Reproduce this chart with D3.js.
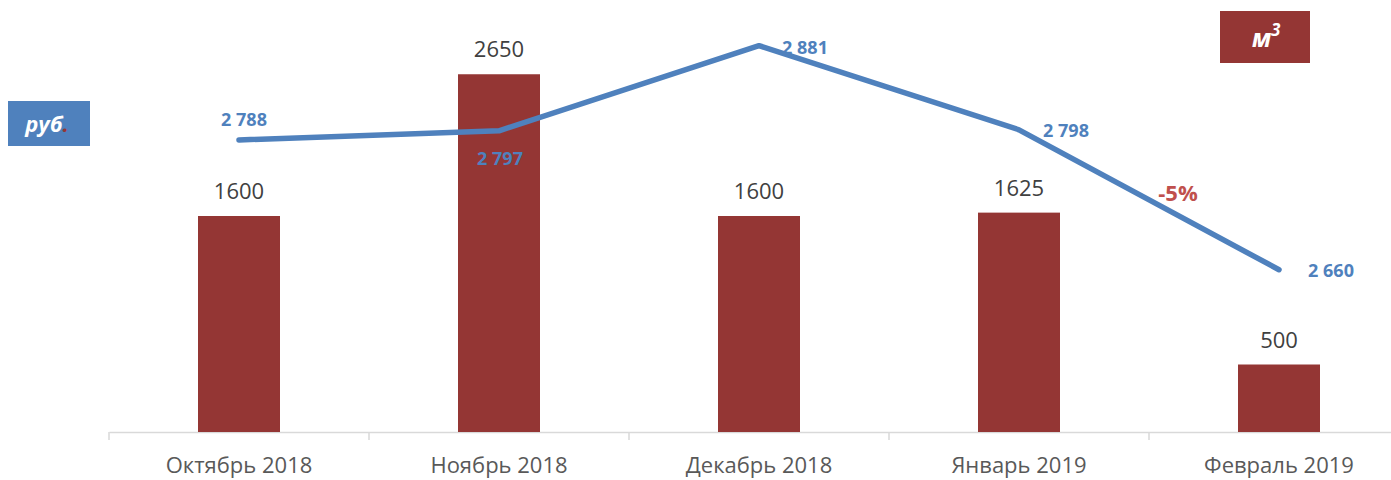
<!DOCTYPE html>
<meta charset="utf-8">
<head>
  <title>Объём и цена</title>
</head>
<style>
body { margin: 0; background: #fff; font-family: "Open Sans", "Noto Sans", sans-serif; }
</style>
<body>
  <svg id="chart" width="1391" height="480"></svg>
  <script src="https://cdnjs.cloudflare.com/ajax/libs/d3/7.8.5/d3.min.js"></script>
  <script>
var months = ['Октябрь 2018', 'Ноябрь 2018', 'Декабрь 2018', 'Январь 2019', 'Февраль 2019'];
var volume = [1600, 2650, 1600, 1625, 500];
var price = [2788, 2797, 2881, 2798, 2660];
var priceLabels = ['2 788', '2 797', '2 881', '2 798', '2 660'];
// label placement relative to point: dx, dy
var labelPos = [[5, -14], [1, 34], [46, 8], [47, 7], [52, 7]];

var svg = d3.select('#chart');
var left = 109, right = 1409, base = 432;

var x = d3.scaleBand().domain(months).range([left, right]);
var yBar = d3.scaleLinear().domain([0, 3200]).range([base, 0]);
var yLine = d3.scaleLinear().domain([2500, 2926]).range([base, 0]);

// axis
var axis = svg.append('g').attr('transform', 'translate(0,' + base + ')')
  .call(d3.axisBottom(x).tickSize(0).tickPadding(25));
axis.select('.domain').attr('stroke', '#d9d9d9').attr('stroke-width', 1.5);
axis.selectAll('text').attr('font-size', 22).attr('fill', '#595959')
  .attr('font-family', '"Open Sans", sans-serif');
svg.append('g').selectAll('line')
  .data(months)
  .join('line')
  .attr('x1', function(d) { return x(d); })
  .attr('x2', function(d) { return x(d); })
  .attr('y1', base).attr('y2', base + 8)
  .attr('stroke', '#d9d9d9').attr('stroke-width', 1.5);

// bars
var bw = 82;
svg.append('g').selectAll('rect')
  .data(volume)
  .join('rect')
  .attr('x', function(d, i) { return x(months[i]) + x.bandwidth() / 2 - bw / 2; })
  .attr('y', function(d) { return yBar(d); })
  .attr('width', bw)
  .attr('height', function(d) { return base - yBar(d); })
  .attr('fill', '#943634');

svg.append('g').selectAll('text')
  .data(volume)
  .join('text')
  .attr('x', function(d, i) { return x(months[i]) + x.bandwidth() / 2; })
  .attr('y', function(d) { return yBar(d) - 17; })
  .attr('text-anchor', 'middle')
  .attr('font-size', 22)
  .attr('fill', '#404040')
  .text(function(d) { return d; });

// line
var line = d3.line()
  .x(function(d, i) { return x(months[i]) + x.bandwidth() / 2; })
  .y(function(d) { return yLine(d); });
svg.append('path')
  .datum(price)
  .attr('d', line)
  .attr('fill', 'none')
  .attr('stroke', '#4f81bd')
  .attr('stroke-width', 5.5)
  .attr('stroke-linejoin', 'round')
  .attr('stroke-linecap', 'round');

svg.append('g').selectAll('text')
  .data(price)
  .join('text')
  .attr('x', function(d, i) { return x(months[i]) + x.bandwidth() / 2 + labelPos[i][0]; })
  .attr('y', function(d, i) { return yLine(d) + labelPos[i][1]; })
  .attr('text-anchor', 'middle')
  .attr('font-size', 18)
  .attr('font-weight', 'bold')
  .attr('fill', '#4f81bd')
  .text(function(d, i) { return priceLabels[i]; });

// change annotation
svg.append('text')
  .attr('x', 1178).attr('y', 201)
  .attr('text-anchor', 'middle')
  .attr('font-size', 22).attr('font-weight', 'bold')
  .attr('fill', '#c0504d')
  .text('-5%');

// unit boxes
svg.append('rect').attr('x', 8).attr('y', 101).attr('width', 82).attr('height', 45).attr('fill', '#4f81bd');
var rub = svg.append('text').attr('x', 47).attr('y', 132).attr('text-anchor', 'middle')
  .attr('font-size', 22).attr('font-weight', 'bold').attr('font-style', 'italic').attr('fill', '#fff');
rub.append('tspan').text('руб');
rub.append('tspan').attr('fill', '#943634').text('.');

svg.append('rect').attr('x', 1220).attr('y', 11).attr('width', 90).attr('height', 52).attr('fill', '#943634');
var m3 = svg.append('text').attr('x', 1266).attr('y', 47).attr('text-anchor', 'middle')
  .attr('font-size', 25).attr('font-weight', 'bold').attr('font-style', 'italic').attr('fill', '#fff');
m3.append('tspan').text('м');
m3.append('tspan').attr('font-size', 17).attr('dy', -11).text('3');
  </script>
</body>
</html>
